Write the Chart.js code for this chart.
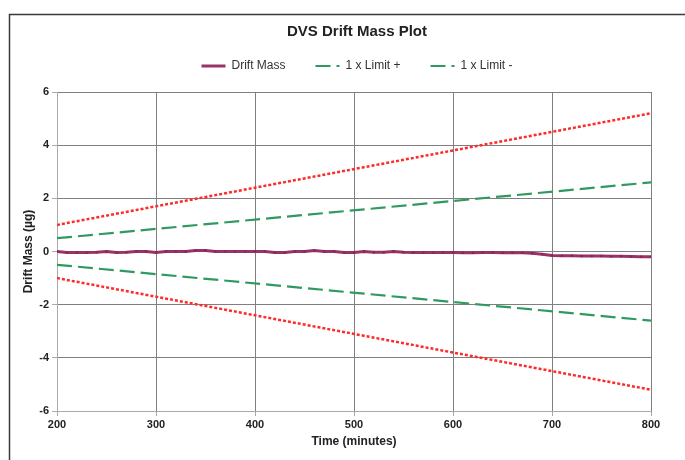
<!DOCTYPE html>
<html>
<head>
<meta charset="utf-8">
<script src="https://cdn.jsdelivr.net/npm/chart.js@4.4.1/dist/chart.umd.min.js"></script>
<style>
  html, body { margin: 0; padding: 0; background: #fff; }
  #wrap { position: relative; width: 685px; height: 460px; }
</style>
</head>
<body>
<div id="wrap"><canvas id="drift"></canvas></div>
<script>
// time axis (minutes) for the drift series, one sample every 10 min
const driftTimes = [
    200, 210, 220, 230, 240, 250, 260, 270, 280, 290,
    300, 310, 320, 330, 340, 350, 360, 370, 380, 390,
    400, 410, 420, 430, 440, 450, 460, 470, 480, 490,
    500, 510, 520, 530, 540, 550, 560, 570, 580, 590,
    600, 610, 620, 630, 640, 650, 660, 670, 680, 690,
    700, 710, 720, 730, 740, 750, 760, 770, 780, 790, 800
];
const driftMass = [
    0, -0.04, -0.04, -0.04, -0.03, 0, -0.04, -0.03, 0, 0,
    -0.04, 0, 0, 0, 0.04, 0.04, 0, 0, 0, 0,
    0, 0, -0.04, -0.04, 0, 0, 0.04, 0, 0, -0.04,
    -0.04, 0, -0.03, -0.03, 0, -0.03, -0.04, -0.04, -0.04, -0.04,
    -0.04, -0.05, -0.05, -0.04, -0.04, -0.05, -0.05, -0.05, -0.07, -0.1,
    -0.15, -0.16, -0.16, -0.17, -0.17, -0.17, -0.18, -0.18, -0.19, -0.2, -0.2
];

// limit lines (straight, given by their end points)
const limitTimes = [200, 800];
const limitPlus = [0.5, 2.6];
const limitMinus = [-0.5, -2.6];
const outerPlus = [1.0, 5.2];
const outerMinus = [-1.0, -5.2];

const X_MIN = 200, X_MAX = 800, X_STEP = 100;
const Y_MIN = -6, Y_MAX = 6, Y_STEP = 2;

const MAROON = '#993366';
const GREEN = '#2f9a5f';
const RED = '#ff2a2a';
const GRID = '#7f7f7f';
const FONT = 'Liberation Sans, Arial, sans-serif';

function pairs(xs, ys) {
    return xs.map(function (x, i) {
        return { x: x, y: ys[i] };
    });
}

const framePlugin = {
    id: 'frame',
    beforeDraw: function (chart) {
        const ctx = chart.ctx;
        ctx.save();
        ctx.strokeStyle = '#3a3a3a';
        ctx.lineWidth = 1.5;
        ctx.beginPath();
        ctx.moveTo(9.5, 460);
        ctx.lineTo(9.5, 14.5);
        ctx.lineTo(685, 14.5);
        ctx.stroke();
        ctx.restore();
    },
};

function dashedLine(label, data, color, dash, width) {
    return {
        label: label,
        data: data,
        borderColor: color,
        backgroundColor: color,
        borderDash: dash,
        borderWidth: width,
        pointRadius: 0,
        fill: false,
        tension: 0,
        order: 1,
    };
}

function legendLabels(chart) {
    const items = Chart.defaults.plugins.legend.labels.generateLabels(chart);
    items.forEach(function (item) {
        const ds = chart.data.datasets[item.datasetIndex];
        item.strokeStyle = ds.borderColor;
        item.fillStyle = ds.borderColor;
        item.lineWidth = ds.borderWidth;
        item.lineDash = ds.borderDash || [];
        item.pointStyle = 'line';
    });
    return items.filter(function (item) {
        return item.text.indexOf('outer') !== 0;
    });
}

// spacer axes so the title/legend centre over the full frame like the original
function spacer(position, size) {
    return {
        type: 'linear',
        position: position,
        display: true,
        ticks: { display: false },
        grid: { display: false, drawTicks: false },
        border: { display: false },
        afterFit: function (scale) {
            if (position === 'top') {
                scale.height = size;
            } else {
                scale.width = size;
            }
        },
    };
}

new Chart(document.getElementById('drift').getContext('2d'), {
    type: 'line',
    data: {
        datasets: [
            {
                label: 'Drift Mass',
                data: pairs(driftTimes, driftMass),
                borderColor: MAROON,
                backgroundColor: '#8a2456',
                borderWidth: 3,
                pointStyle: 'rect',
                pointRadius: 1.6,
                pointBorderWidth: 0,
                fill: false,
                tension: 0,
                order: 0,
            },
            dashedLine('1 x Limit +', pairs(limitTimes, limitPlus), GREEN, [15, 6], 2.2),
            dashedLine('1 x Limit -', pairs(limitTimes, limitMinus), GREEN, [15, 6], 2.2),
            dashedLine('outer+', pairs(limitTimes, outerPlus), RED, [3, 2], 2.5),
            dashedLine('outer-', pairs(limitTimes, outerMinus), RED, [3, 2], 2.5),
        ],
    },
    options: {
        responsive: true,
        maintainAspectRatio: false,
        animation: false,
        layout: { padding: { left: 10, right: -19, top: 15, bottom: 0 } },
        plugins: {
            title: {
                display: true,
                text: 'DVS Drift Mass Plot',
                color: '#222',
                font: { family: FONT, size: 15, weight: 'bold' },
                padding: { top: 8, bottom: -11 },
            },
            legend: {
                labels: {
                    generateLabels: legendLabels,
                    usePointStyle: true,
                    pointStyleWidth: 24,
                    boxHeight: 12,
                    color: '#333',
                    font: { family: FONT, size: 12 },
                    padding: 30,
                },
            },
            tooltip: { enabled: false },
        },
        scales: {
            x: {
                type: 'linear',
                min: X_MIN,
                max: X_MAX,
                afterFit: function (scale) {
                    scale.height = 49;
                },
                ticks: {
                    stepSize: X_STEP,
                    color: '#222',
                    font: { family: FONT, size: 11, weight: 'bold' },
                    padding: 2,
                },
                grid: { color: GRID, tickLength: 5, tickColor: '#aaa' },
                border: { color: '#aaa' },
                title: {
                    display: true,
                    text: 'Time (minutes)',
                    color: '#222',
                    font: { family: FONT, size: 12, weight: 'bold' },
                    padding: { top: 2, bottom: 11 },
                },
            },
            xTop: spacer('top', 10),
            y: {
                min: Y_MIN,
                max: Y_MAX,
                afterFit: function (scale) {
                    scale.width = 47;
                },
                ticks: {
                    stepSize: Y_STEP,
                    color: '#222',
                    font: { family: FONT, size: 11, weight: 'bold' },
                    padding: 3,
                },
                grid: { color: GRID, tickLength: 5, tickColor: '#aaa' },
                border: { color: '#aaa' },
                title: {
                    display: true,
                    text: 'Drift Mass (µg)',
                    color: '#222',
                    font: { family: FONT, size: 12, weight: 'bold' },
                    padding: { top: 11, bottom: 2 },
                },
            },
            yRight: spacer('right', 53),
        },
    },
    plugins: [framePlugin],
});
</script>
</body>
</html>
